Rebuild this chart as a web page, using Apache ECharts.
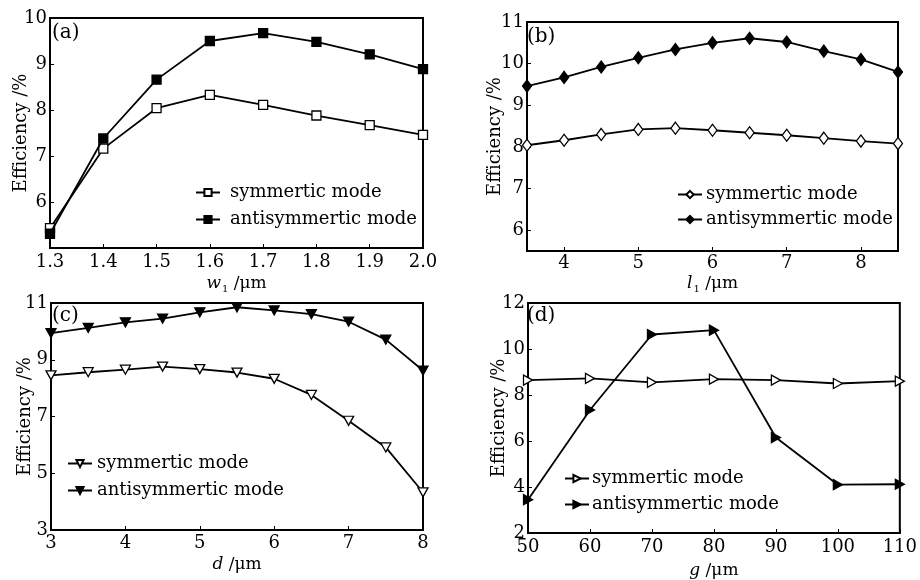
<!DOCTYPE html>
<html>
<head>
<meta charset="utf-8">
<script src="https://cdn.jsdelivr.net/npm/echarts@6/dist/echarts.min.js"></script>
<style>html,body{margin:0;padding:0;background:#fff}#c{width:920px;height:580px}</style>
</head>
<body>
<div id="c"></div>
<script>
// Panel (a)
const aX = [1.3, 1.4, 1.5, 1.6, 1.7, 1.8, 1.9, 2.0];
const aSym = [5.43, 7.16, 8.04, 8.33, 8.11, 7.88, 7.67, 7.46];
const aAnti = [5.31, 7.38, 8.66, 9.50, 9.67, 9.48, 9.21, 8.89];
const aXTicks = [1.3, 1.4, 1.5, 1.6, 1.7, 1.8, 1.9, 2.0];
const aYTicks = [6, 7, 8, 9, 10];
// Panel (b)
const bX = [3.5, 4, 4.5, 5, 5.5, 6, 6.5, 7, 7.5, 8, 8.5];
const bSym = [8.04, 8.16, 8.30, 8.42, 8.45, 8.40, 8.34, 8.28, 8.21, 8.14, 8.08];
const bAnti = [9.46, 9.67, 9.92, 10.14, 10.34, 10.50, 10.61, 10.52, 10.30, 10.10, 9.80];
const bXTicks = [4, 5, 6, 7, 8];
const bYTicks = [6, 7, 8, 9, 10, 11];
// Panel (c)
const cX = [3, 3.5, 4, 4.5, 5, 5.5, 6, 6.5, 7, 7.5, 8];
const cSym = [8.45, 8.56, 8.65, 8.76, 8.67, 8.55, 8.33, 7.76, 6.85, 5.91, 4.33];
const cAnti = [9.94, 10.12, 10.32, 10.45, 10.67, 10.85, 10.74, 10.61, 10.34, 9.71, 8.62];
const cXTicks = [3, 4, 5, 6, 7, 8];
const cYTicks = [3, 5, 7, 9, 11];
// Panel (d)
const dX = [50, 60, 70, 80, 90, 100, 110];
const dSym = [8.65, 8.72, 8.55, 8.69, 8.65, 8.50, 8.60];
const dAnti = [3.45, 7.35, 10.63, 10.82, 6.15, 4.10, 4.12];
const dXTicks = [50, 60, 70, 80, 90, 100, 110];
const dYTicks = [2, 4, 6, 8, 10, 12];

const legendNames = ['symmertic mode', 'antisymmertic mode'];
const FONT = 'DejaVu Serif';

const chart = echarts.init(document.getElementById('c'));

const grids = [
  {left: 50, top: 18, width: 373, height: 230},
  {left: 527, top: 22, width: 371, height: 229},
  {left: 51, top: 303, width: 372, height: 227},
  {left: 528, top: 303, width: 373, height: 231}
];

function xAxis(idx, min, max, ticks, nameRich, gap, margin, decimals) {
  return {
    type: 'value', gridIndex: idx, min: min, max: max,
    axisLine: {show: true, onZero: false, lineStyle: {color: '#000', width: 2}},
    axisTick: {show: true, inside: true, length: 4, customValues: ticks, lineStyle: {color: '#000', width: 1}},
    axisLabel: {customValues: ticks, color: '#000', fontFamily: FONT, fontSize: 18, margin: margin,
      formatter: v => decimals ? v.toFixed(decimals) : String(v)},
    splitLine: {show: false},
    name: nameRich, nameLocation: 'middle', nameGap: gap, nameMoveOverlap: false,
    nameTextStyle: {color: '#000', fontFamily: FONT, fontSize: 17,
      rich: {
        i: {fontFamily: FONT, fontStyle: 'italic', fontSize: 17, color: '#000'},
        s: {fontFamily: FONT, fontSize: 10, color: '#000', verticalAlign: 'bottom', padding: [10, 0, 0, 1]},
        n: {fontFamily: FONT, fontSize: 17, color: '#000'}
      }}
  };
}
function yAxis(idx, min, max, ticks, gap) {
  return {
    type: 'value', gridIndex: idx, min: min, max: max,
    axisLine: {show: true, onZero: false, lineStyle: {color: '#000', width: 2}},
    axisTick: {show: true, inside: true, length: 4, customValues: ticks, lineStyle: {color: '#000', width: 1}},
    axisLabel: {customValues: ticks, color: '#000', fontFamily: FONT, fontSize: 18, margin: 3},
    splitLine: {show: false},
    name: 'Efficiency /%', nameLocation: 'middle', nameGap: gap, nameRotate: 90, nameMoveOverlap: false,
    nameTextStyle: {color: '#000', fontFamily: FONT, fontSize: 18}
  };
}

const line = {color: '#000', width: 1.8};
function ser(name, idx, xs, ys, symbol, size, filled) {
  return {
    name: name, type: 'line', xAxisIndex: idx, yAxisIndex: idx,
    data: xs.map((x, i) => [x, ys[i]]),
    symbol: symbol, symbolSize: size, showAllSymbol: true,
    lineStyle: line,
    itemStyle: {color: filled ? '#000' : '#fff', borderColor: '#000', borderWidth: 1.3},
    clip: false, z: filled ? 3 : 2
  };
}
const tri_down = 'path://M0,0L10,0L5,9Z';
const tri_right = 'path://M0,0L9,5L0,10Z';

function legend(names, left, top, gap, textGap) {
  return {
    data: names, left: left, top: top, orient: 'vertical', itemGap: gap,
    itemWidth: 24, itemHeight: 9, padding: 0,
    selectedMode: false,
    formatter: n => n.endsWith('anti') ? legendNames[1] : legendNames[0],
    textStyle: {color: '#000', fontFamily: FONT, fontSize: 18, lineHeight: 19, padding: [0, 0, 0, textGap - 5]}
  };
}

function label(t, x, y) {
  return {type: 'text', left: x, top: y, style: {text: t, fill: '#000', font: '20px "DejaVu Serif"'}};
}

chart.setOption({
  animation: false,
  backgroundColor: '#fff',
  grid: grids.map(g => Object.assign({show: true, borderColor: '#000', borderWidth: 2, backgroundColor: 'transparent', containLabel: false}, g)),
  xAxis: [
    xAxis(0, 1.3, 2.0, aXTicks, '{i|w}{s|1}{n| /μm}', 26, 5, 1),
    xAxis(1, 3.5, 8.5, bXTicks, '{i|l}{s|1}{n| /μm}', 23, 3, 0),
    xAxis(2, 3, 8, cXTicks, '{i|d}{n| /μm}', 26, 4, 0),
    xAxis(3, 50, 110, dXTicks, '{i|g}{n| /μm}', 29, 5, 0)
  ],
  yAxis: [
    yAxis(0, 5, 10, aYTicks, 20),
    yAxis(1, 5.5, 11, bYTicks, 23),
    yAxis(2, 3, 11, cYTicks, 17),
    yAxis(3, 2, 12, dYTicks, 20)
  ],
  legend: [
    legend(['a_sym', 'a_anti'], 195, 183, 8, 10),
    legend(['b_sym', 'b_anti'], 677, 185, 6, 4),
    legend(['c_sym', 'c_anti'], 67, 454, 8, 5),
    legend(['d_sym', 'd_anti'], 564, 469, 7, 3)
  ],
  graphic: [
    label('(a)', 52, 23),
    label('(b)', 527, 27),
    label('(c)', 52, 306),
    label('(d)', 527, 306)
  ],
  series: [
    ser('a_sym', 0, aX, aSym, 'rect', 9, false),
    ser('a_anti', 0, aX, aAnti, 'rect', 9, true),
    ser('b_sym', 1, bX, bSym, 'diamond', [9, 12], false),
    ser('b_anti', 1, bX, bAnti, 'diamond', [9, 12], true),
    ser('c_sym', 2, cX, cSym, tri_down, [10, 9], false),
    ser('c_anti', 2, cX, cAnti, tri_down, [10, 9], true),
    ser('d_sym', 3, dX, dSym, tri_right, [9, 10], false),
    ser('d_anti', 3, dX, dAnti, tri_right, [9, 10], true)
  ]
});
</script>
</body>
</html>
